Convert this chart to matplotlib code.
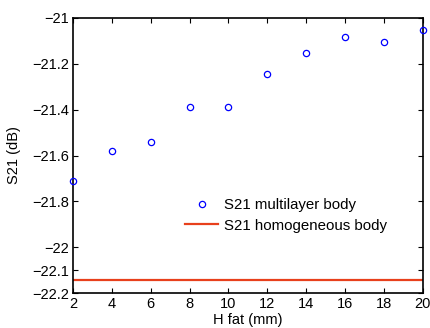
import matplotlib
matplotlib.use("Agg")
import matplotlib.pyplot as plt

plt.rcParams['font.family'] = ['Liberation Sans', 'DejaVu Sans']

h_fat = [2, 4, 6, 8, 10, 12, 14, 16, 18, 20]
s21_multilayer = [-21.71, -21.58, -21.54, -21.387, -21.39, -21.246, -21.152, -21.084, -21.107, -21.055]
s21_homogeneous = -22.14
xticks = [2, 4, 6, 8, 10, 12, 14, 16, 18, 20]
yticks = [-22.2, -22.1, -22, -21.8, -21.6, -21.4, -21.2, -21]
ytick_labels = ['\u221222.2', '\u221222.1', '\u221222', '\u221221.8', '\u221221.6', '\u221221.4', '\u221221.2', '\u221221']

fig = plt.figure(figsize=(4.31, 3.28), dpi=100)
ax = fig.add_axes([0.1694, 0.1058, 0.8113, 0.8402])

ax.plot(h_fat, s21_multilayer, linestyle='none', marker='o', markersize=4.5,
        markerfacecolor='none', markeredgecolor='#0000ff', markeredgewidth=0.9,
        label='S21 multilayer body', clip_on=False, zorder=3)
ax.plot([h_fat[0], h_fat[-1]], [s21_homogeneous, s21_homogeneous], color='#e8401c',
        linewidth=1.6, label='S21 homogeneous body')

ax.set_xlim(2, 20)
ax.set_ylim(-22.2, -21)
ax.set_xticks(xticks)
ax.set_yticks(yticks)
ax.set_yticklabels(ytick_labels)
ax.tick_params(direction='in', top=True, right=True, length=3.5, width=0.8,
               labelsize=10.5, pad=3)
for s in ax.spines.values():
    s.set_linewidth(1.2)

ax.set_xlabel('H fat (mm)', fontsize=10.5, labelpad=1)
ax.set_ylabel('S21 (dB)', fontsize=10.5)
ax.yaxis.set_label_coords(-0.148, 0.5)

leg = ax.legend(loc='center', bbox_to_anchor=(0.61, 0.283), frameon=False,
                fontsize=10.8, handlelength=2.2, handletextpad=0.4, labelspacing=0.45)

fig.savefig('out.png', dpi=100)
